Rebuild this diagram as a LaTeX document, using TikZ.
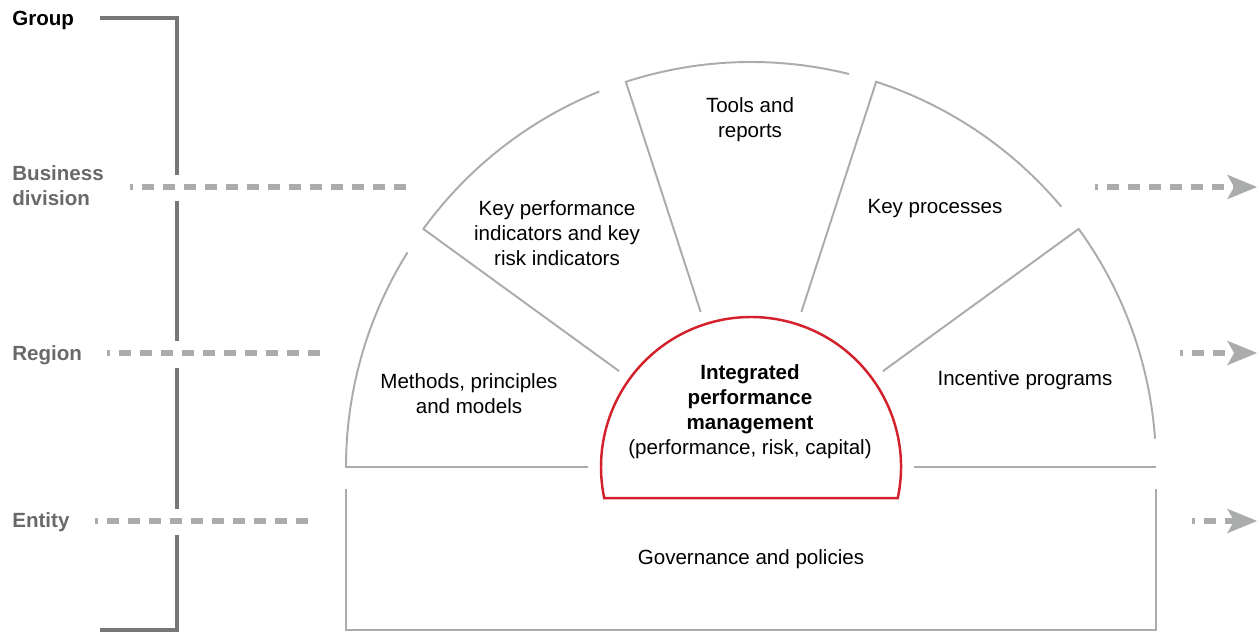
\documentclass[tikz,border=0pt]{standalone}
\usepackage{fontspec}
\setmainfont{Liberation Sans}
\usetikzlibrary{arrows.meta}
\definecolor{linegray}{RGB}{170,171,171}
\definecolor{bargray}{RGB}{118,120,120}
\definecolor{labelgray}{RGB}{104,106,106}
\definecolor{ipmred}{RGB}{211,32,42}
\tikzset{
  part/.style={draw=linegray,line width=1.1pt},
  level/.style={draw=linegray,line width=3.2pt,dash pattern=on 2.4mm off 1.8mm,dash phase=1.9mm},
  levelarrow/.style={level,-{Stealth[length=17pt,width=14pt,inset=4pt,line width=0.4pt,fill=linegray]}},
  txt/.style={font=\fontsize{11.7pt}{14.2pt}\selectfont,align=center},
  lvl/.style={font=\fontsize{11.7pt}{14.2pt}\selectfont\bfseries,anchor=west,inner sep=0pt,align=left}
}
\begin{document}
\begin{tikzpicture}
\useasboundingbox (0,0) rectangle (25.14,12.64);
% Levels on the left
\node[lvl] (group) at (0.24,12.24) {Group};
\node[lvl,text=labelgray] (bdiv) at (0.24,8.93) {Business\\division};
\node[lvl,text=labelgray] (region) at (0.24,5.54) {Region};
\node[lvl,text=labelgray] (entity) at (0.24,2.2) {Entity};
% Bracket, broken where the dashed lines cross
\draw[bargray,line width=2.5pt] (2,12.28) -- (3.54,12.28) -- (3.54,9.14);
\draw[bargray,line width=2.5pt] (3.54,8.62) -- (3.54,5.82);
\draw[bargray,line width=2.5pt] (3.54,5.28) -- (3.54,2.46);
\draw[bargray,line width=2.5pt] (3.54,1.94) -- (3.54,0.04) -- (2,0.04);
% Dashed level lines, in and out
\coordinate (bdiv-in) at (2.6,8.9);
\coordinate (bdiv-end) at (8.16,8.9);
\coordinate (region-in) at (2.14,5.58);
\coordinate (region-end) at (6.44,5.58);
\coordinate (entity-in) at (1.9,2.22);
\coordinate (entity-end) at (6.2,2.22);
\draw[level] (bdiv-in) -- (bdiv-end);
\draw[level] (region-in) -- (region-end);
\draw[level] (entity-in) -- (entity-end);
\coordinate (bdiv-out) at (21.9,8.9);
\coordinate (bdiv-tip) at (25.14,8.9);
\coordinate (region-out) at (23.6,5.58);
\coordinate (region-tip) at (25.14,5.58);
\coordinate (entity-out) at (23.84,2.22);
\coordinate (entity-tip) at (25.14,2.22);
\draw[levelarrow] (bdiv-out) -- (bdiv-tip);
\draw[levelarrow] (region-out) -- (region-tip);
\draw[levelarrow] (entity-out) -- (entity-tip);
% Half wheel, five wedges with small gaps
\begin{scope}[shift={(15.02,3.3)}]
\foreach \a/\b in {180/148,144/112,108/76,72/40,36/4}
  \draw[part] (\b:8.1) arc[start angle=\b,end angle=\a,radius=8.1] -- (\a:3.26);
\draw[part] (0:3.26) -- (0:8.1);
% Governance box below
\draw[part] (-8.1,-0.44) -- (-8.1,-3.26) -- (8.1,-3.26) -- (8.1,-0.44);
% Hub
\draw[ipmred,line width=1.4pt] (-12:3) arc[start angle=-12,end angle=192,radius=3] -- cycle;
\end{scope}
\node[txt] (tools) at (15.0,10.25) {Tools and\\reports};
\node[txt] (kpi) at (11.14,7.98) {Key performance\\indicators and key\\risk indicators};
\node[txt] (keyproc) at (18.7,8.47) {Key processes};
\node[txt] (methods) at (9.38,4.77) {Methods, principles\\and models};
\node[txt] (incent) at (20.5,5.04) {Incentive programs};
\node[txt] (ipm) at (15.0,4.41) {\textbf{Integrated}\\\textbf{performance}\\\textbf{management}\\(performance, risk, capital)};
\node[txt] (gov) at (15.02,1.46) {Governance and policies};
\end{tikzpicture}
\end{document}
